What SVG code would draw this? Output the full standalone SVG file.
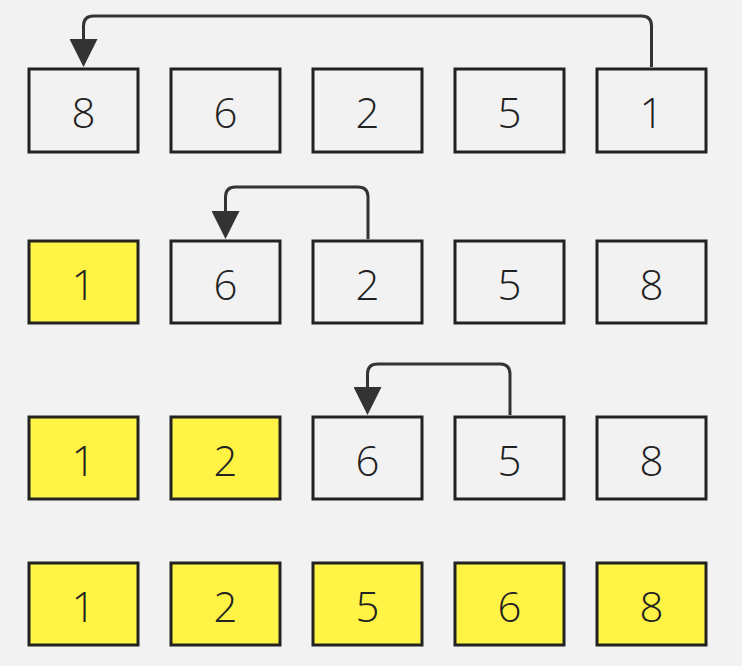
<svg xmlns="http://www.w3.org/2000/svg" width="742" height="666" viewBox="0 0 742 666">
<style>
.b rect{fill:#f2f2f2;stroke:#222;stroke-width:3}
.y rect{fill:#fff445}
text{font-family:"Open Sans","Noto Sans",sans-serif;font-size:42px;font-weight:300;fill:#222;text-anchor:middle;dominant-baseline:central}
.c path{fill:none;stroke:#333;stroke-width:3}
</style>
<defs>
<marker id="ah" viewBox="0 0 28 28" refX="1" refY="14" markerWidth="28" markerHeight="28" markerUnits="userSpaceOnUse" orient="auto">
<path d="M0,0 L28,14 L0,28 Z" fill="#333"/>
</marker>
</defs>
<rect width="742" height="666" fill="#f2f2f2"/>
<g id="r1a" class="b"><rect x="29" y="69" width="109" height="83"/><text x="83.5" y="111">8</text></g>
<g id="r1b" class="b"><rect x="171" y="69" width="109" height="83"/><text x="225.5" y="111">6</text></g>
<g id="r1c" class="b"><rect x="313" y="69" width="109" height="83"/><text x="367.5" y="111">2</text></g>
<g id="r1d" class="b"><rect x="455" y="69" width="109" height="83"/><text x="509.5" y="111">5</text></g>
<g id="r1e" class="b"><rect x="597" y="69" width="109" height="83"/><text x="651.5" y="111">1</text></g>

<g id="r2a" class="b y"><rect x="29" y="241" width="109" height="82"/><text x="83.5" y="283">1</text></g>
<g id="r2b" class="b"><rect x="171" y="241" width="109" height="82"/><text x="225.5" y="283">6</text></g>
<g id="r2c" class="b"><rect x="313" y="241" width="109" height="82"/><text x="367.5" y="283">2</text></g>
<g id="r2d" class="b"><rect x="455" y="241" width="109" height="82"/><text x="509.5" y="283">5</text></g>
<g id="r2e" class="b"><rect x="597" y="241" width="109" height="82"/><text x="651.5" y="283">8</text></g>

<g id="r3a" class="b y"><rect x="29" y="417" width="109" height="82"/><text x="83.5" y="459">1</text></g>
<g id="r3b" class="b y"><rect x="171" y="417" width="109" height="82"/><text x="225.5" y="459">2</text></g>
<g id="r3c" class="b"><rect x="313" y="417" width="109" height="82"/><text x="367.5" y="459">6</text></g>
<g id="r3d" class="b"><rect x="455" y="417" width="109" height="82"/><text x="509.5" y="459">5</text></g>
<g id="r3e" class="b"><rect x="597" y="417" width="109" height="82"/><text x="651.5" y="459">8</text></g>

<g id="r4a" class="b y"><rect x="29" y="563" width="109" height="82"/><text x="83.5" y="605">1</text></g>
<g id="r4b" class="b y"><rect x="171" y="563" width="109" height="82"/><text x="225.5" y="605">2</text></g>
<g id="r4c" class="b y"><rect x="313" y="563" width="109" height="82"/><text x="367.5" y="605">5</text></g>
<g id="r4d" class="b y"><rect x="455" y="563" width="109" height="82"/><text x="509.5" y="605">6</text></g>
<g id="r4e" class="b y"><rect x="597" y="563" width="109" height="82"/><text x="651.5" y="605">8</text></g>

<g id="connectors" class="c">
<path d="M651.5,67 V26 Q651.5,16 641.5,16 H93.5 Q83.5,16 83.5,26 V40" marker-end="url(#ah)"/>
<path d="M368,239 V197 Q368,187 358,187 H235.5 Q225.5,187 225.5,197 V212" marker-end="url(#ah)"/>
<path d="M510,415 V374 Q510,364 500,364 H377.5 Q367.5,364 367.5,374 V388" marker-end="url(#ah)"/>
</g>
</svg>
